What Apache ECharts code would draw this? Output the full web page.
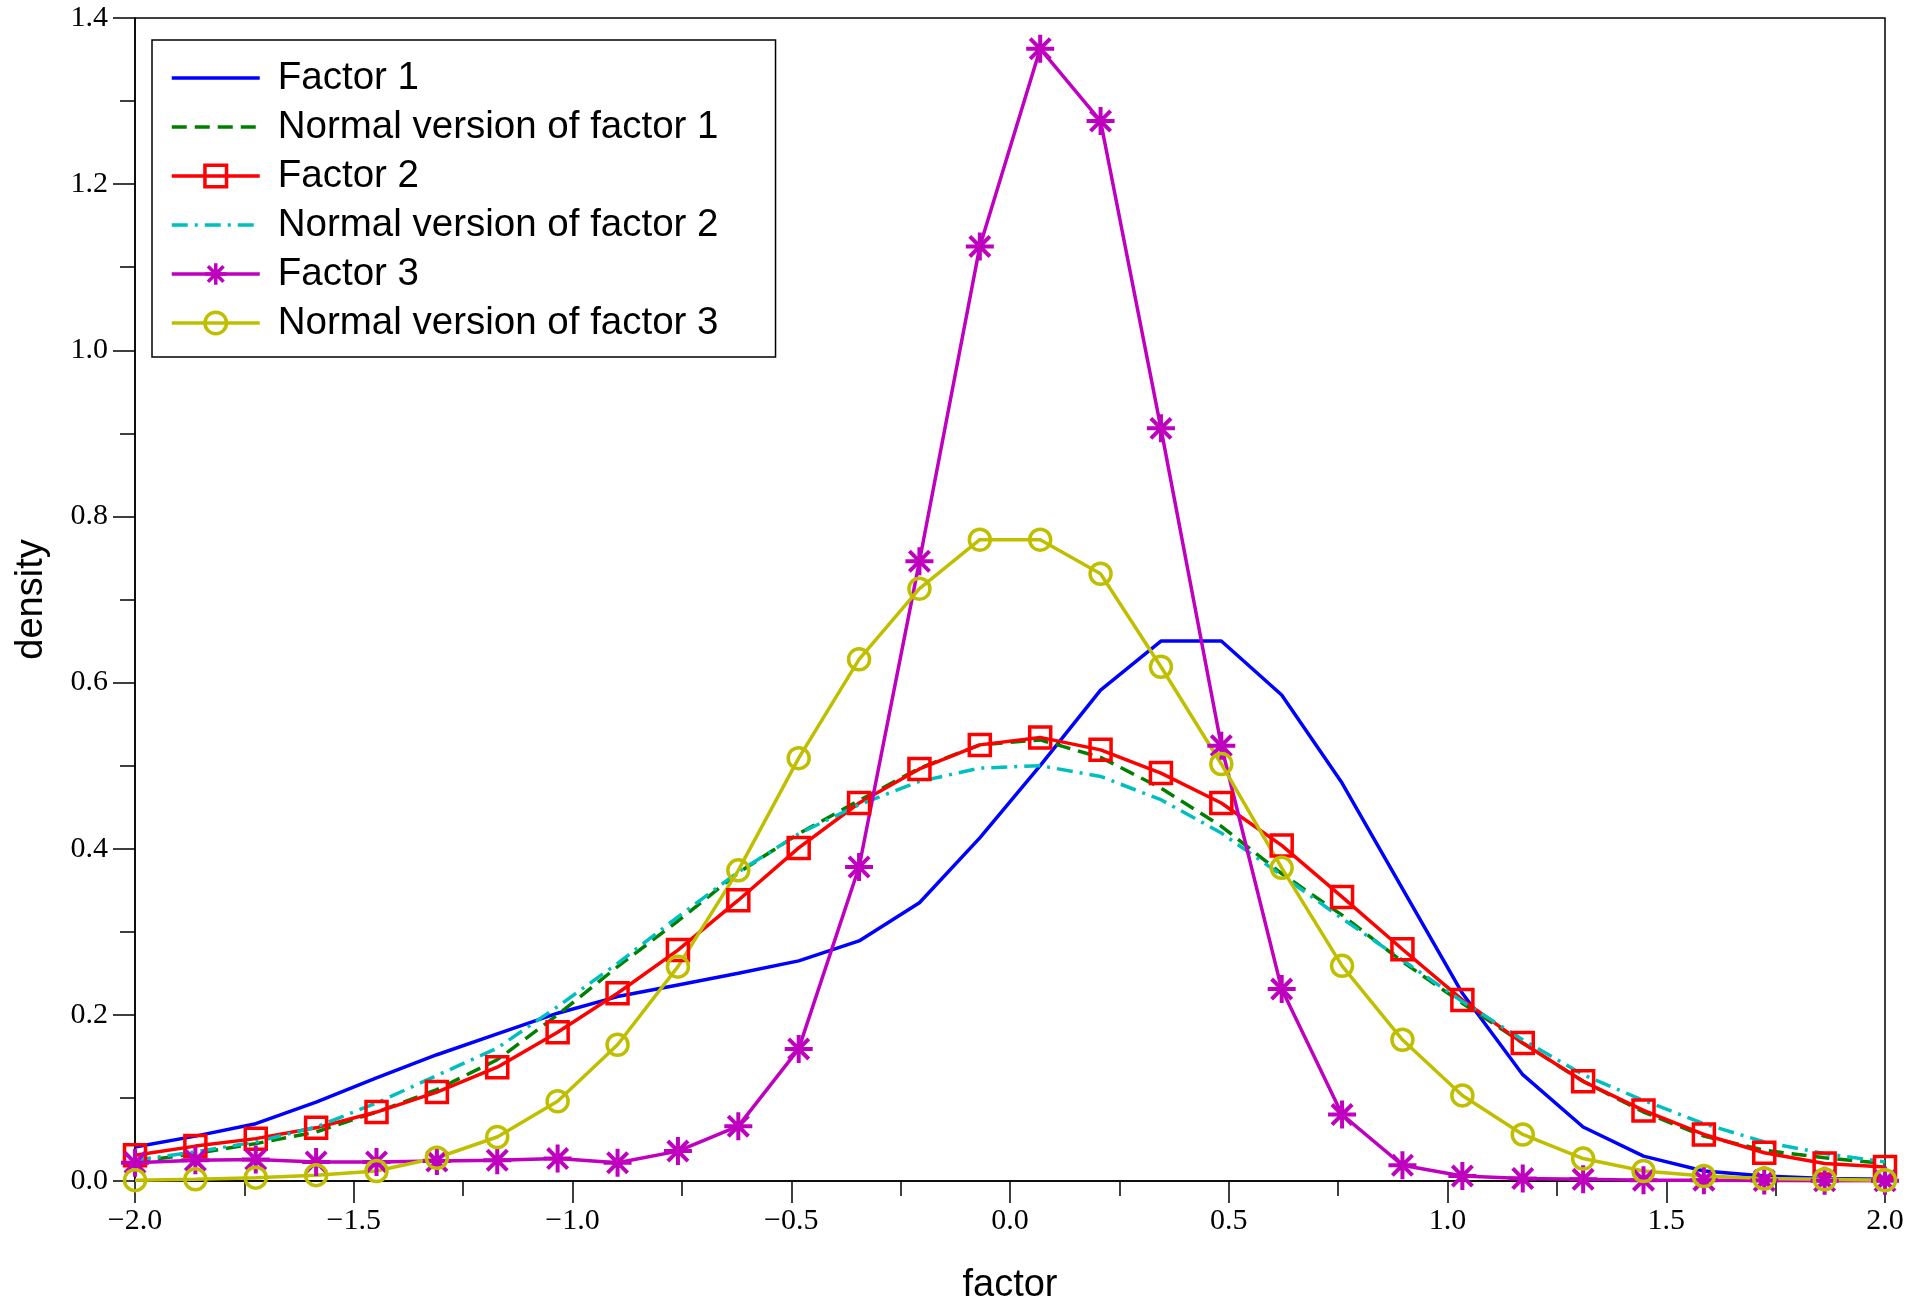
<!DOCTYPE html>
<html>
<head>
<meta charset="utf-8">
<title>factor densities</title>
<script src="https://cdn.jsdelivr.net/npm/echarts@6/dist/echarts.min.js"></script>
<style>
  html, body { margin: 0; padding: 0; background: #fff; }
  #chart { width: 1909px; height: 1303px; }
</style>
</head>
<body>
<div id="chart"></div>
<script>
// grid of evaluation points (30 points from -2 to 2)
const factorX = [-2.000, -1.862, -1.724, -1.586, -1.448, -1.310, -1.172, -1.034, -0.897, -0.759,
  -0.621, -0.483, -0.345, -0.207, -0.069, 0.069, 0.207, 0.345, 0.483, 0.621,
  0.759, 0.897, 1.034, 1.172, 1.310, 1.448, 1.586, 1.724, 1.862, 2.000];

const factor1 = [0.041, 0.054, 0.069, 0.095, 0.124, 0.152, 0.177, 0.202, 0.222, 0.236,
  0.250, 0.265, 0.289, 0.335, 0.413, 0.500, 0.591, 0.650, 0.650, 0.585,
  0.479, 0.352, 0.226, 0.128, 0.065, 0.030, 0.012, 0.006, 0.003, 0.002];

const normal1 = [0.023, 0.033, 0.045, 0.059, 0.083, 0.110, 0.146, 0.200, 0.258, 0.313,
  0.371, 0.418, 0.458, 0.497, 0.525, 0.531, 0.510, 0.473, 0.427, 0.370,
  0.320, 0.264, 0.214, 0.166, 0.120, 0.083, 0.054, 0.037, 0.028, 0.021];

const factor2 = [0.031, 0.042, 0.051, 0.064, 0.083, 0.107, 0.137, 0.179, 0.226, 0.278,
  0.338, 0.401, 0.455, 0.496, 0.525, 0.534, 0.519, 0.491, 0.455, 0.404,
  0.342, 0.279, 0.218, 0.166, 0.120, 0.085, 0.056, 0.034, 0.021, 0.017];

const normal2 = [0.025, 0.035, 0.047, 0.065, 0.094, 0.127, 0.160, 0.210, 0.262, 0.318,
  0.372, 0.418, 0.453, 0.481, 0.497, 0.500, 0.487, 0.459, 0.419, 0.368,
  0.316, 0.266, 0.216, 0.170, 0.128, 0.097, 0.069, 0.047, 0.033, 0.023];

const factor3 = [0.022, 0.025, 0.026, 0.023, 0.023, 0.024, 0.025, 0.027, 0.022, 0.036,
  0.066, 0.159, 0.378, 0.746, 1.125, 1.363, 1.276, 0.906, 0.524, 0.231,
  0.080, 0.019, 0.006, 0.003, 0.002, 0.001, 0.001, 0.0005, 0.0003, 0.0002];

const normal3 = [0.001, 0.002, 0.004, 0.007, 0.012, 0.028, 0.053, 0.096, 0.164, 0.258,
  0.374, 0.509, 0.628, 0.713, 0.772, 0.772, 0.731, 0.619, 0.502, 0.377,
  0.259, 0.170, 0.103, 0.056, 0.027, 0.012, 0.006, 0.003, 0.002, 0.001];

const seriesNames = ['Factor 1', 'Normal version of factor 1', 'Factor 2',
  'Normal version of factor 2', 'Factor 3', 'Normal version of factor 3'];

const xTicks = {min: -2, max: 2, step: 0.5};
const yTicks = {min: 0, max: 1.4, step: 0.2};

const CLEAR = 'rgba(0,0,0,0)';
const STAR = 'path://M0,-1L0,1M-1,0L1,0M-0.72,-0.72L0.72,0.72M-0.72,0.72L0.72,-0.72';
const serif = 'Liberation Serif';
const sans = 'Liberation Sans';
const LINE_W = 3.5;

function lineSeries(name, values, color, {symbol = 'none', size = 21, dash = 'solid', border = LINE_W} = {}) {
  return {
    name,
    type: 'line',
    data: factorX.map((x, i) => [x, values[i]]),
    symbol,
    symbolSize: size,
    showSymbol: symbol !== 'none',
    clip: true,
    lineStyle: {color, width: LINE_W, type: dash},
    itemStyle: symbol === 'none'
      ? {color: CLEAR, borderWidth: 0}
      : {color: CLEAR, borderColor: color, borderWidth: border}
  };
}

const series = [
  lineSeries(seriesNames[0], factor1, '#0000ff'),
  lineSeries(seriesNames[1], normal1, '#008000', {dash: [15, 8]}),
  lineSeries(seriesNames[2], factor2, '#ff0000', {symbol: 'rect', size: 21}),
  lineSeries(seriesNames[3], normal2, '#00bfbf', {dash: [16, 7, 3, 7]}),
  lineSeries(seriesNames[4], factor3, '#bf00bf', {symbol: STAR, size: 28, border: 4}),
  lineSeries(seriesNames[5], normal3, '#bfbf00', {symbol: 'circle', size: 21})
];

const axisCommon = {
  type: 'value',
  nameLocation: 'middle',
  nameTextStyle: {fontFamily: sans, fontSize: 38, color: '#000'},
  axisLine: {show: true, onZero: false, lineStyle: {color: '#000', width: 1.5}},
  axisTick: {show: true, inside: false, length: 22, lineStyle: {color: '#000', width: 1.5}},
  minorTick: {show: true, splitNumber: 2, length: 15, lineStyle: {color: '#000', width: 1.5}},
  splitLine: {show: false},
  minorSplitLine: {show: false}
};

const chart = echarts.init(document.getElementById('chart'), null, {renderer: 'canvas'});

chart.setOption({
  animation: false,
  backgroundColor: '#fff',
  grid: {
    left: 135, right: 24, top: 18, bottom: 122,
    show: true, borderColor: '#000', borderWidth: 1.5, backgroundColor: CLEAR,
    containLabel: false, outerBoundsMode: 'none'
  },
  legend: {
    orient: 'vertical',
    left: 152,
    top: 40,
    padding: [18, 57, 14, 18],
    itemGap: 9,
    itemWidth: 88,
    itemHeight: 27,
    backgroundColor: '#fff',
    borderColor: '#000',
    borderWidth: 1.5,
    borderRadius: 0,
    lineStyle: {width: LINE_W},
    textStyle: {fontFamily: sans, fontSize: 38.5, color: '#000', lineHeight: 40, padding: [0, 0, 0, 13]},
    data: seriesNames.map((name, i) => ({
      name,
      itemStyle: i === 2 || i === 4 || i === 5 ? {borderWidth: LINE_W} : {borderWidth: 0, opacity: 0}
    }))
  },
  xAxis: {
    ...axisCommon,
    name: 'factor',
    nameGap: 86,
    min: xTicks.min,
    max: xTicks.max,
    interval: xTicks.step,
    axisLabel: {
      margin: 25, fontFamily: serif, fontSize: 30, color: '#000',
      formatter: v => v.toFixed(1).replace('-', '\u2212')
    }
  },
  yAxis: {
    ...axisCommon,
    name: 'density',
    nameGap: 84,
    nameRotate: 90,
    min: yTicks.min,
    max: yTicks.max,
    interval: yTicks.step,
    axisLabel: {
      margin: 27, fontFamily: serif, fontSize: 30, color: '#000',
      formatter: v => v.toFixed(1)
    }
  },
  series
});
</script>
</body>
</html>
